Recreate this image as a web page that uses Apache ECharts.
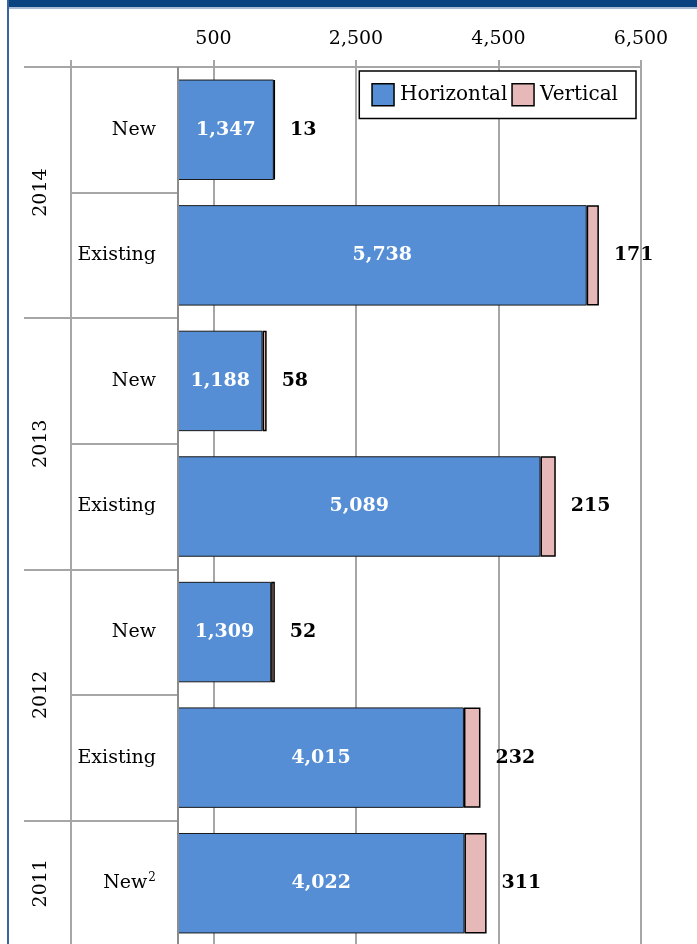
<!DOCTYPE html>
<html>
<head>
<meta charset="utf-8">
<script src="https://cdn.jsdelivr.net/npm/echarts@6/dist/echarts.min.js"></script>
<style>
  html, body { margin: 0; padding: 0; background: #fff; }
  #chart { width: 697px; height: 944px; }
</style>
</head>
<body>
<div id="chart"></div>
<script>
// rows, top to bottom
var categories = ['New', 'Existing', 'New', 'Existing', 'New', 'Existing', 'New'];
var notes = ['', '', '', '', '', '', '2'];
var years = ['2014', '2013', '2012', '2011'];
var yearSpans = [2, 2, 2, 1];
var horizontal = [1347, 5738, 1188, 5089, 1309, 4015, 4022];
var vertical = [13, 171, 58, 215, 52, 232, 311];
// value axis: ticks counted from min
var xMin = -1500, xMax = 6500, xStep = 2000;

var font = 'DejaVu Serif';
var gridGrey = '#a6a6a6';

function fmt(v) {
    return String(v).replace(/\B(?=(\d{3})+(?!\d))/g, ',');
}

// where each year group starts and where its label sits
var yearStarts = [], yearCenters = {};
var acc = 0;
yearSpans.forEach(function (n, i) {
    yearStarts.push(acc);
    yearCenters[acc + n / 2] = years[i];
    acc += n;
});

var myChart = echarts.init(document.getElementById('chart'));
myChart.setOption({
    animation: false,
    graphic: [
        { type: 'rect', shape: { x: 8, y: 0, width: 689, height: 7 }, style: { fill: '#0b4381' } },
        { type: 'rect', shape: { x: 9, y: 7, width: 688, height: 2 }, style: { fill: '#a9bcd6' } },
        { type: 'rect', shape: { x: 7, y: 0, width: 2, height: 944 }, style: { fill: '#3a64a0' } }
    ],
    legend: {
        data: ['Horizontal', 'Vertical'],
        right: 61,
        top: 71,
        padding: [12, 18, 12, 12],
        itemWidth: 22,
        itemHeight: 22,
        itemGap: 4,
        icon: 'rect',
        backgroundColor: '#fff',
        borderColor: '#000',
        borderWidth: 1.5,
        itemStyle: { borderColor: '#000', borderWidth: 1.5 },
        textStyle: { fontFamily: font, fontSize: 20, color: '#000', padding: [0, 0, 0, 1] }
    },
    grid: {
        left: 71,
        top: 67,
        width: 570,
        height: 879,
        outerBoundsMode: 'none',
        containLabel: false
    },
    xAxis: {
        type: 'value',
        position: 'top',
        min: xMin,
        max: xMax,
        interval: xStep,
        axisLine: { show: true, onZero: false, lineStyle: { color: gridGrey, width: 2 } },
        axisTick: { show: true, length: 7, lineStyle: { color: gridGrey, width: 2 } },
        splitLine: { show: true, lineStyle: { color: gridGrey, width: 2 } },
        axisLabel: {
            margin: 18,
            fontFamily: font,
            fontSize: 19,
            color: '#000',
            formatter: function (v) { return v < 0 ? '' : fmt(v); }
        }
    },
    yAxis: [
        {
            // inner level: New / Existing, separators run to the zero line
            type: 'category',
            data: categories,
            inverse: true,
            axisLine: { show: false, onZero: false },
            axisTick: { show: true, inside: true, interval: 0, length: 107, lineStyle: { color: gridGrey, width: 2 } },
            splitLine: { show: false },
            axisLabel: {
                inside: true,
                align: 'right',
                interval: 0,
                margin: 85,
                fontFamily: font,
                fontSize: 19,
                color: '#000',
                formatter: function (v, i) {
                    return notes[i] ? v + '{sup|' + notes[i] + '}' : v;
                },
                rich: {
                    sup: { fontFamily: font, fontSize: 12, color: '#000', verticalAlign: 'top', padding: [0, 0, 10, 1] }
                }
            }
        },
        {
            // year group separators
            type: 'category',
            data: categories,
            inverse: true,
            position: 'left',
            axisLine: { show: false, onZero: false },
            axisTick: {
                show: true,
                length: 47,
                interval: function (i) { return yearStarts.indexOf(i) >= 0; },
                lineStyle: { color: gridGrey, width: 2 }
            },
            axisLabel: { show: false },
            splitLine: { show: false }
        },
        {
            // year labels
            type: 'value',
            min: 0,
            max: categories.length,
            interval: 0.5,
            inverse: true,
            position: 'left',
            axisLine: { show: false, onZero: false },
            axisTick: { show: false },
            splitLine: { show: false },
            axisLabel: {
                rotate: 90,
                margin: 20,
                fontFamily: font,
                fontSize: 19,
                color: '#000',
                formatter: function (v) { return yearCenters[v] || ''; }
            }
        }
    ],
    series: [
        {
            name: 'Horizontal',
            type: 'bar',
            stack: 'wells',
            barCategoryGap: '20%',
            data: horizontal,
            itemStyle: { color: '#558ed5', borderColor: '#1a1a1a', borderWidth: 1 },
            label: {
                show: true,
                position: 'inside',
                fontFamily: font,
                fontSize: 19,
                fontWeight: 'bold',
                color: '#fff',
                formatter: function (p) { return fmt(p.value); }
            },
            // category axis line sits at zero
            markLine: {
                silent: true,
                symbol: 'none',
                label: { show: false },
                lineStyle: { color: '#8c8c8c', width: 2, type: 'solid' },
                data: [{ xAxis: 0 }]
            }
        },
        {
            name: 'Vertical',
            type: 'bar',
            stack: 'wells',
            barCategoryGap: '20%',
            data: vertical,
            itemStyle: { color: '#e6b9b8', borderColor: '#000', borderWidth: 1.5 },
            label: {
                show: true,
                position: 'right',
                distance: 15,
                fontFamily: font,
                fontSize: 19,
                fontWeight: 'bold',
                color: '#000',
                formatter: function (p) { return fmt(p.value); }
            }
        }
    ]
});
</script>
</body>
</html>
